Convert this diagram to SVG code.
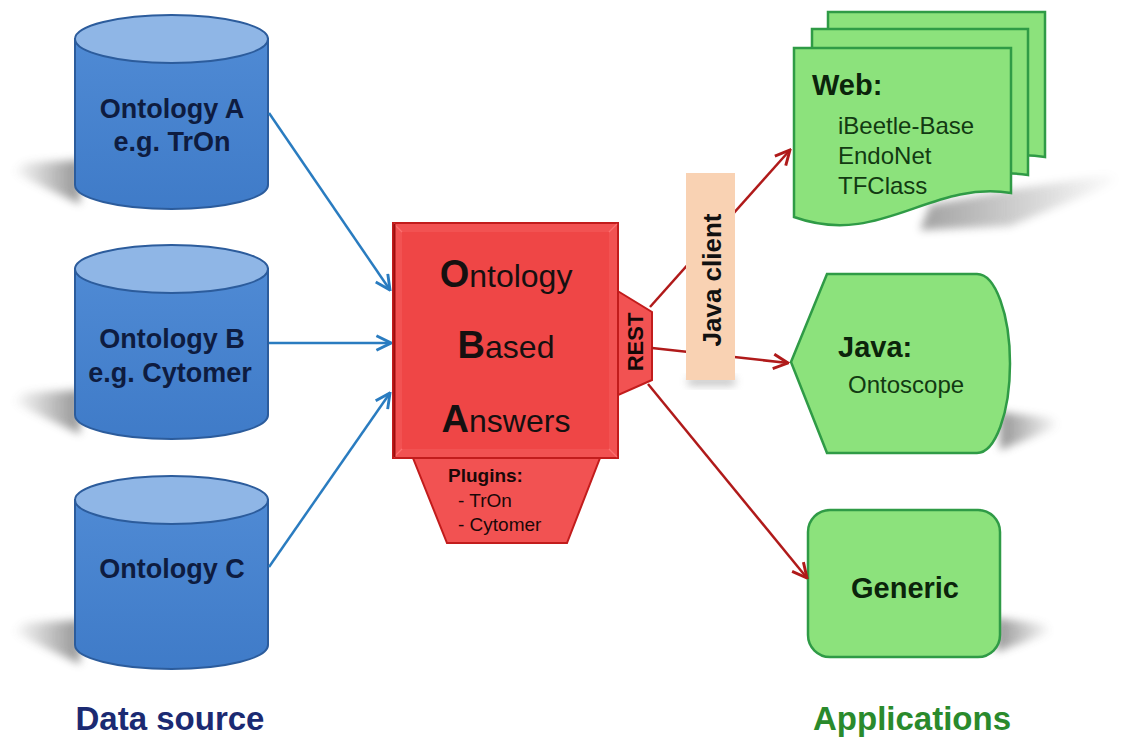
<svg xmlns="http://www.w3.org/2000/svg" width="1121" height="744" viewBox="0 0 1121 744">
  <defs>
    <style>
      text { font-family: "Liberation Sans", Arial, sans-serif; }
      .cyl-body { fill: url(#cylBody); stroke: #2c5c9c; stroke-width: 2; }
      .cyl-top { fill: #8fb6e6; stroke: #2c5c9c; stroke-width: 2; }
      .cyl-text { font-size: 27px; font-weight: bold; fill: #0e1c40; text-anchor: middle; }
      .app { fill: #8ce27c; stroke: #2f9b46; stroke-width: 2.5; }
      .app-title { font-size: 29px; font-weight: bold; fill: #0b240b; }
      .app-item { font-size: 24px; fill: #123a12; }
      .oba { fill: #f25252; stroke: #c21c1c; stroke-width: 2; }
      .oba-big { font-size: 38px; font-weight: bold; }
      .oba-small { font-size: 32px; }
      .oba-text { fill: #151010; text-anchor: middle; }
      .blue { stroke: #2a7cc0; stroke-width: 2.5; fill: none; marker-end: url(#headBlue); }
      .red { stroke: #b01a1a; stroke-width: 2.5; fill: none; marker-end: url(#headRed); }
      .caption { font-size: 33px; font-weight: bold; text-anchor: middle; }
    </style>
    <linearGradient id="cylBody" x1="0" y1="0" x2="0" y2="1">
      <stop offset="0" stop-color="#4f8ad4"/>
      <stop offset="1" stop-color="#3f7bc8"/>
    </linearGradient>
    <linearGradient id="fadeLeft" x1="1" y1="0" x2="0" y2="0">
      <stop offset="0" stop-color="#7a7a7a"/>
      <stop offset="1" stop-color="#7a7a7a" stop-opacity="0"/>
    </linearGradient>
    <linearGradient id="fadeRight" x1="0" y1="0" x2="1" y2="0">
      <stop offset="0" stop-color="#7a7a7a"/>
      <stop offset="1" stop-color="#7a7a7a" stop-opacity="0"/>
    </linearGradient>
    <filter id="soft" x="-30%" y="-60%" width="160%" height="220%">
      <feGaussianBlur stdDeviation="4"/>
    </filter>
    <marker id="headBlue" viewBox="0 0 12 12" refX="11" refY="6" markerWidth="7" markerHeight="7" markerUnits="strokeWidth" orient="auto">
      <path d="M1,1 L11,6 L1,11" fill="none" stroke="#2a7cc0" stroke-width="2" stroke-linejoin="miter"/>
    </marker>
    <marker id="headRed" viewBox="0 0 12 12" refX="11" refY="6" markerWidth="7" markerHeight="7" markerUnits="strokeWidth" orient="auto">
      <path d="M1,1 L11,6 L1,11" fill="none" stroke="#b01a1a" stroke-width="2" stroke-linejoin="miter"/>
    </marker>
  </defs>

  <rect width="1121" height="744" fill="#ffffff"/>

  <!-- cast shadows -->
  <g id="shadows">
    <polygon points="80,160 24,163 12,172 80,204" fill="url(#fadeLeft)" filter="url(#soft)" opacity="0.8"/>
    <polygon points="80,390 24,393 12,402 80,434" fill="url(#fadeLeft)" filter="url(#soft)" opacity="0.8"/>
    <polygon points="80,620 24,623 12,632 80,664" fill="url(#fadeLeft)" filter="url(#soft)" opacity="0.8"/>
    <polygon points="930,205 1010,190 1112,174 1120,181 1010,226 920,230" fill="url(#fadeRight)" filter="url(#soft)" opacity="0.7"/>
    <polygon points="1000,412 1052,418 1060,426 1000,450" fill="url(#fadeRight)" filter="url(#soft)" opacity="0.8"/>
    <polygon points="996,618 1044,624 1052,632 996,652" fill="url(#fadeRight)" filter="url(#soft)" opacity="0.8"/>
    <rect x="688" y="378" width="47" height="7" fill="#8a8a8a" filter="url(#soft)" opacity="0.6"/>
  </g>

  <!-- data sources -->
  <g id="ontology-a">
    <path class="cyl-body" d="M75,39 V185 A96.5,24 0 0 0 268,185 V39 Z"/>
    <ellipse class="cyl-top" cx="171.5" cy="39" rx="96.5" ry="24"/>
    <text class="cyl-text" x="172" y="118">Ontology A</text>
    <text class="cyl-text" x="172" y="151">e.g. TrOn</text>
  </g>
  <g id="ontology-b">
    <path class="cyl-body" d="M75,269 V415 A96.5,24 0 0 0 268,415 V269 Z"/>
    <ellipse class="cyl-top" cx="171.5" cy="269" rx="96.5" ry="24"/>
    <text class="cyl-text" x="172" y="348">Ontology B</text>
    <text class="cyl-text" x="170" y="382">e.g. Cytomer</text>
  </g>
  <g id="ontology-c">
    <path class="cyl-body" d="M75,500 V645 A96.5,24 0 0 0 268,645 V500 Z"/>
    <ellipse class="cyl-top" cx="171.5" cy="500" rx="96.5" ry="24"/>
    <text class="cyl-text" x="172" y="578">Ontology C</text>
  </g>

  <!-- central service -->
  <g id="oba">
    <polygon class="oba" points="413,458 600,458 567,543 447,543"/>
    <polygon class="oba" points="616,290 652,312 652,380 616,396"/>
    <rect class="oba" x="393" y="223" width="225" height="235"/>
    <rect x="402" y="232" width="207" height="217" fill="#ef4646"/>
    <g stroke="#f77" stroke-width="1.2" opacity="0.8">
      <line x1="394" y1="224" x2="402" y2="232"/>
      <line x1="617" y1="224" x2="609" y2="232"/>
      <line x1="394" y1="457" x2="402" y2="449"/>
      <line x1="617" y1="457" x2="609" y2="449"/>
    </g>
    <line x1="394.5" y1="224" x2="394.5" y2="457" stroke="#9e0e0e" stroke-width="2"/>
    <text class="oba-text" x="506" y="287"><tspan class="oba-big">O</tspan><tspan class="oba-small">ntology</tspan></text>
    <text class="oba-text" x="506" y="358"><tspan class="oba-big">B</tspan><tspan class="oba-small">ased</tspan></text>
    <text class="oba-text" x="506" y="432"><tspan class="oba-big">A</tspan><tspan class="oba-small">nswers</tspan></text>
    <text x="448" y="482" font-size="19" font-weight="bold" fill="#1a0808">Plugins:</text>
    <text x="458" y="507" font-size="19" fill="#1a0808">- TrOn</text>
    <text x="458" y="531" font-size="19" fill="#1a0808">- Cytomer</text>
    <text transform="translate(643 342) rotate(-90)" text-anchor="middle" font-size="22" font-weight="bold" fill="#150808">REST</text>
  </g>

  <!-- applications -->
  <g id="web">
    <path class="app" d="M828,12 H1045 V157 C964,144 914,212 828,181 Z"/>
    <path class="app" d="M812,29 H1028 V175 C947,162 897,230 812,199 Z"/>
    <path class="app" d="M794,48 H1011 V193 C930,180 880,248 794,217 Z"/>
    <text class="app-title" x="812" y="95">Web:</text>
    <text class="app-item" x="838" y="134">iBeetle-Base</text>
    <text class="app-item" x="838" y="164">EndoNet</text>
    <text class="app-item" x="838" y="194">TFClass</text>
  </g>
  <g id="java">
    <path class="app" d="M791,362 L827,274 H977 A33,89.5 0 0 1 977,453 H827 Z"/>
    <text class="app-title" x="838" y="357">Java:</text>
    <text class="app-item" x="848" y="393" font-size="23">Ontoscope</text>
  </g>
  <g id="generic">
    <rect class="app" x="808" y="510" width="192" height="147" rx="22"/>
    <text class="app-title" x="905" y="598" text-anchor="middle">Generic</text>
  </g>

  <!-- connectors -->
  <g id="connectors">
    <line class="blue" x1="269" y1="113" x2="390" y2="290"/>
    <line class="blue" x1="269" y1="343" x2="391" y2="343"/>
    <line class="blue" x1="269" y1="567" x2="390" y2="393"/>
    <line class="red" x1="650" y1="307" x2="790" y2="150"/>
    <line class="red" x1="652" y1="348" x2="788" y2="363"/>
    <line class="red" x1="648" y1="384" x2="807" y2="578"/>
  </g>

  <!-- client library sits over the outgoing lines -->
  <g id="java-client">
    <rect x="686" y="173" width="49" height="207" fill="#f9d2b3"/>
    <text transform="translate(721 280) rotate(-90)" text-anchor="middle" font-size="26" font-weight="bold" fill="#111">Java client</text>
  </g>

  <g id="captions">
    <text class="caption" x="170" y="730" fill="#1b2a72">Data source</text>
    <text class="caption" x="912" y="730" fill="#2a8a2c">Applications</text>
  </g>
</svg>
